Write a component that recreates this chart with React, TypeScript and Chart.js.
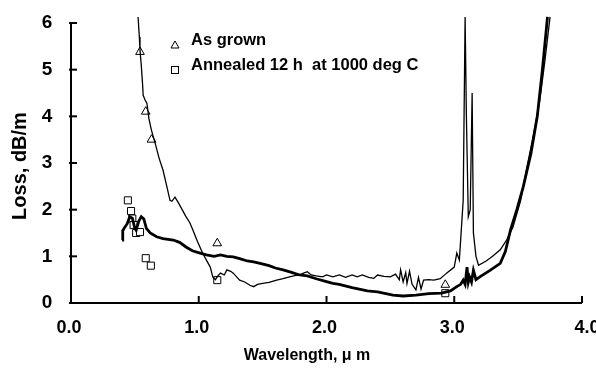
import React, { useEffect, useRef } from "react";
import { Chart, registerables } from "chart.js";

Chart.register(...registerables);

// As grown (thin trace)
const grownX = [0.525, 0.535, 0.54, 0.55, 0.56, 0.565, 0.58, 0.594, 0.61, 0.63, 0.658, 0.69, 0.72, 0.75, 0.775, 0.79, 0.814, 0.84, 0.87, 0.9, 0.93, 0.955, 0.99, 1.03, 1.06, 1.09, 1.11, 1.13, 1.15, 1.17, 1.2, 1.22, 1.25, 1.27, 1.3, 1.32, 1.36, 1.4, 1.43, 1.46, 1.5, 1.55, 1.61, 1.66, 1.71, 1.76, 1.79, 1.82, 1.85, 1.88, 1.92, 1.97, 2.0, 2.05, 2.1, 2.15, 2.2, 2.24, 2.28, 2.33, 2.37, 2.4, 2.45, 2.5, 2.54, 2.57, 2.58, 2.6, 2.62, 2.63, 2.65, 2.67, 2.7, 2.72, 2.74, 2.76, 2.8, 2.84, 2.89, 2.94, 3.0, 3.02, 3.04, 3.07, 3.085, 3.095, 3.11, 3.125, 3.14, 3.15, 3.17, 3.19, 3.25, 3.3, 3.36, 3.41, 3.46, 3.52, 3.57, 3.62, 3.67, 3.71, 3.75];
const grownY = [6.13, 5.7, 5.42, 5.1, 4.7, 4.45, 4.35, 4.28, 3.95, 3.7, 3.43, 3.1, 2.85, 2.5, 2.2, 2.18, 2.27, 2.15, 2.0, 1.85, 1.72, 1.56, 1.32, 1.07, 0.92, 0.77, 0.56, 0.5, 0.58, 0.64, 0.6, 0.71, 0.68, 0.64, 0.55, 0.49, 0.45, 0.38, 0.35, 0.4, 0.42, 0.44, 0.49, 0.52, 0.56, 0.59, 0.6, 0.64, 0.67, 0.6, 0.58, 0.56, 0.6, 0.56, 0.6, 0.55, 0.6, 0.56, 0.6, 0.55, 0.53, 0.6, 0.57, 0.56, 0.62, 0.5, 0.71, 0.45, 0.65, 0.42, 0.68, 0.4, 0.28, 0.55, 0.3, 0.49, 0.5, 0.49, 0.52, 0.64, 0.77, 1.07, 0.92, 2.2, 6.13, 4.0, 1.85, 2.0, 4.5, 1.5, 1.0, 0.81, 0.9, 1.0, 1.14, 1.35, 1.63, 2.2, 2.92, 3.6, 4.35, 5.2, 6.13];

// Annealed (thick trace)
const annealX = [0.4, 0.405, 0.42, 0.44, 0.46, 0.48, 0.5, 0.51, 0.53, 0.55, 0.57, 0.59, 0.62, 0.67, 0.72, 0.8, 0.85, 0.9, 0.95, 1.01, 1.06, 1.12, 1.17, 1.22, 1.27, 1.32, 1.38, 1.43, 1.48, 1.55, 1.6, 1.66, 1.72, 1.79, 1.85, 1.92, 2.0, 2.05, 2.1, 2.2, 2.32, 2.4, 2.52, 2.6, 2.7, 2.8, 2.9, 2.97, 3.02, 3.05, 3.07, 3.085, 3.1, 3.11, 3.12, 3.135, 3.15, 3.17, 3.2, 3.28, 3.36, 3.4, 3.44, 3.49, 3.54, 3.6, 3.65, 3.69, 3.73];
const annealY = [1.35, 1.55, 1.62, 1.7, 1.85, 1.82, 1.6, 1.56, 1.75, 1.85, 1.8, 1.6, 1.5, 1.42, 1.38, 1.35, 1.3, 1.2, 1.12, 1.07, 1.03, 1.0, 1.03, 1.0, 0.99, 0.95, 0.9, 0.88, 0.85, 0.8, 0.75, 0.71, 0.66, 0.6, 0.58, 0.52, 0.46, 0.42, 0.4, 0.33, 0.26, 0.24, 0.17, 0.15, 0.17, 0.2, 0.21, 0.26, 0.35, 0.4, 0.49, 0.4, 0.77, 0.45, 0.56, 0.45, 0.7, 0.5, 0.56, 0.7, 0.85, 1.1, 1.56, 2.0, 2.49, 3.2, 4.0, 5.0, 6.13];

// Measured points
const triX = [0.54, 0.585, 0.63, 1.145, 2.93];
const triY = [5.38, 4.1, 3.5, 1.28, 0.39];
const sqX = [0.445, 0.47, 0.48, 0.49, 0.51, 0.54, 0.585, 0.625, 1.145, 2.93];
const sqY = [2.2, 1.97, 1.81, 1.67, 1.5, 1.52, 0.96, 0.8, 0.49, 0.21];

const xTicks = [0, 1, 2, 3, 4];
const yTicks = [0, 1, 2, 3, 4, 5, 6];
const xTickLabels = ["0.0", "1.0", "2.0", "3.0", "4.0"];
const legendLabels = ["As grown", "Annealed 12 h  at 1000 deg C"];
const xTitle = "Wavelength, \u03bc m";
const yTitle = "Loss, dB/m";

const FONT = "'Liberation Sans', Arial, sans-serif";

const pts = (xs: number[], ys: number[]) => xs.map((x, i) => ({ x, y: ys[i] }));

const axesPlugin = {
  id: "customAxes",
  afterDraw(chart: any) {
    const ctx = chart.ctx;
    const xs = chart.scales.x;
    const ys = chart.scales.y;
    const x0 = xs.getPixelForValue(0);
    const x4 = xs.getPixelForValue(4);
    const y0 = ys.getPixelForValue(0);
    const y6 = ys.getPixelForValue(6);
    ctx.save();
    ctx.strokeStyle = "#000";
    ctx.fillStyle = "#000";
    ctx.lineWidth = 2;
    ctx.beginPath();
    ctx.moveTo(x0, y6);
    ctx.lineTo(x0, y0);
    ctx.lineTo(x4, y0);
    ctx.stroke();
    // y ticks
    yTicks.forEach((v) => {
      const p = ys.getPixelForValue(v);
      ctx.beginPath();
      ctx.moveTo(x0 - 2, p);
      ctx.lineTo(x0 + 6, p);
      ctx.stroke();
    });
    // x ticks
    xTicks.forEach((v) => {
      if (v === 0) return;
      const p = xs.getPixelForValue(v);
      ctx.beginPath();
      ctx.moveTo(p, y0);
      ctx.lineTo(p, y0 - 7);
      ctx.stroke();
    });
    // y tick labels
    ctx.font = `bold 19px ${FONT}`;
    ctx.textAlign = "center";
    ctx.textBaseline = "middle";
    yTicks.forEach((v) => {
      ctx.fillText(String(v), 47, ys.getPixelForValue(v));
    });
    // x tick labels
    ctx.font = `bold 18px ${FONT}`;
    ctx.textBaseline = "middle";
    xTicks.forEach((v, i) => {
      const p = xs.getPixelForValue(v);
      ctx.fillText(xTickLabels[i], v === 4 ? p + 5 : p - 2, y0 + 25);
    });
    // x title
    ctx.font = `bold 16px ${FONT}`;
    ctx.fillText(xTitle, 307, 356);
    // y title
    ctx.save();
    ctx.translate(20, 166);
    ctx.rotate(-Math.PI / 2);
    ctx.font = `bold 20px ${FONT}`;
    ctx.fillText(yTitle, 0, 0);
    ctx.restore();
    // legend
    ctx.lineWidth = 1;
    ctx.textAlign = "left";
    ctx.textBaseline = "alphabetic";
    ctx.font = `bold 16.5px ${FONT}`;
    ctx.beginPath();
    ctx.moveTo(175, 41);
    ctx.lineTo(179, 48);
    ctx.lineTo(171, 48);
    ctx.closePath();
    ctx.stroke();
    ctx.fillText(legendLabels[0], 191, 45);
    ctx.strokeRect(171.5, 66.5, 7, 7);
    ctx.fillText(legendLabels[1], 191, 70);
    ctx.restore();
  },
};

export default function App() {
  const ref = useRef<HTMLCanvasElement>(null);
  useEffect(() => {
    if (!ref.current) return;
    const chart = new Chart(ref.current, {
      type: "line",
      data: {
        datasets: [
          {
            label: "As grown trace",
            data: pts(grownX, grownY),
            borderColor: "#000",
            borderWidth: 1.3,
            pointRadius: 0,
            tension: 0,
            clip: false,
          } as any,
          {
            label: "Annealed trace",
            data: pts(annealX, annealY),
            borderColor: "#000",
            borderWidth: 2.8,
            pointRadius: 0,
            tension: 0,
            clip: false,
          } as any,
          {
            type: "scatter",
            label: legendLabels[0],
            data: pts(triX, triY),
            pointStyle: "triangle",
            pointRadius: 5,
            backgroundColor: "#fff",
            borderColor: "#000",
            borderWidth: 1,
            showLine: false,
          } as any,
          {
            type: "scatter",
            label: legendLabels[1],
            data: pts(sqX, sqY),
            pointStyle: "rect",
            pointRadius: 5,
            backgroundColor: "#fff",
            borderColor: "#000",
            borderWidth: 1,
            showLine: false,
          } as any,
        ],
      },
      options: {
        animation: false,
        responsive: false,
        devicePixelRatio: 1,
        layout: { padding: { left: 71, right: 14, top: 23, bottom: 65 } },
        plugins: { legend: { display: false }, tooltip: { enabled: false } },
        scales: {
          x: { type: "linear", min: 0, max: 4, display: false },
          y: { type: "linear", min: 0, max: 6, display: false },
        },
      },
      plugins: [axesPlugin],
    });
    return () => chart.destroy();
  }, []);
  return (
    <div style={{ position: "fixed", left: 0, top: 0, width: 596, height: 368, background: "#fff" }}>
      <canvas ref={ref} width={596} height={368} />
    </div>
  );
}
